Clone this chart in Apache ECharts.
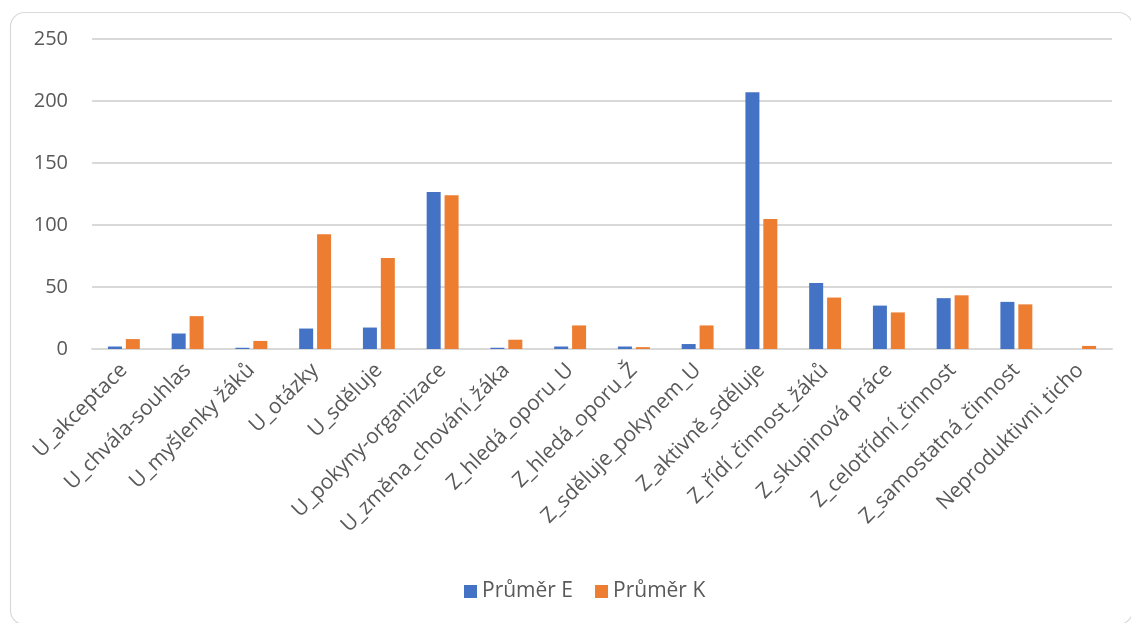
<!DOCTYPE html>
<html>
<head>
<meta charset="utf-8">
<script src="https://cdn.jsdelivr.net/npm/echarts@6/dist/echarts.min.js"></script>
<style>
  html, body { margin: 0; padding: 0; background: #fff; }
  #chart { width: 1131px; height: 623px; }
</style>
</head>
<body>
<div id="chart"></div>
<script>
// Kategorie pozorovaných projevů učitele (U_) a žáků (Z_)
const categories = [
  'U_akceptace', 'U_chvála-souhlas', 'U_myšlenky žáků', 'U_otázky', 'U_sděluje',
  'U_pokyny-organizace', 'U_změna_chování_žáka', 'Z_hledá_oporu_U', 'Z_hledá_oporu_Ž',
  'Z_sděluje_pokynem_U', 'Z_aktivně_sděluje', 'Z_řídí_činnost_žáků', 'Z_skupinová práce',
  'Z_celotřídní_činnost', 'Z_samostatná_činnost', 'Neproduktivni_ticho'
];
const seriesNames = ['Průměr E', 'Průměr K'];
const prumerE = [2, 12.5, 1, 16.5, 17.3, 126.6, 1, 2, 2, 4, 207, 53.3, 35, 41, 38, 0];
const prumerK = [8, 26.5, 6.5, 92.5, 73.4, 124, 7.5, 19, 1.5, 19, 104.8, 41.5, 29.5, 43.3, 36, 2.5];
const yTicks = { min: 0, max: 250, interval: 50 };

const textColor = '#595959';
const gridColor = '#d9d9d9';
const fontFamily = '"Open Sans", "Noto Sans", sans-serif';

const chart = echarts.init(document.getElementById('chart'), null, { renderer: 'canvas' });

const barStyle = (color) => ({
  type: 'bar',
  barWidth: 14,
  itemStyle: { color: color }
});

chart.setOption({
  animation: false,
  backgroundColor: '#fff',
  textStyle: { fontFamily: fontFamily },
  graphic: [{
    type: 'rect',
    left: 8, top: 10,
    shape: { width: 1122, height: 612, r: 14 },
    style: { fill: 'none', stroke: gridColor, lineWidth: 1.2 },
    z: -1
  }],
  grid: { left: 92, right: 19, top: 39, bottom: 274, containLabel: false },
  legend: {
    data: seriesNames,
    bottom: 16,
    left: 459,
    itemWidth: 13,
    itemHeight: 13,
    itemGap: 22,
    icon: 'rect',
    textStyle: { color: textColor, fontSize: 21, fontFamily: fontFamily }
  },
  xAxis: {
    type: 'category',
    data: categories,
    axisLine: { lineStyle: { color: gridColor, width: 2 } },
    axisTick: { show: false },
    axisLabel: {
      interval: 0,
      rotate: 45,
      margin: 18,
      color: textColor,
      fontSize: 21,
      fontFamily: fontFamily
    }
  },
  yAxis: {
    type: 'value',
    min: yTicks.min,
    max: yTicks.max,
    interval: yTicks.interval,
    axisLine: { show: false },
    axisTick: { show: false },
    splitLine: { lineStyle: { color: gridColor, width: 2 } },
    axisLabel: { color: textColor, fontSize: 20, margin: 24, fontFamily: fontFamily }
  },
  series: [
    Object.assign({ name: seriesNames[0], data: prumerE, barGap: '28%' }, barStyle('#4472C4')),
    Object.assign({ name: seriesNames[1], data: prumerK }, barStyle('#ED7D31'))
  ]
});
</script>
</body>
</html>
